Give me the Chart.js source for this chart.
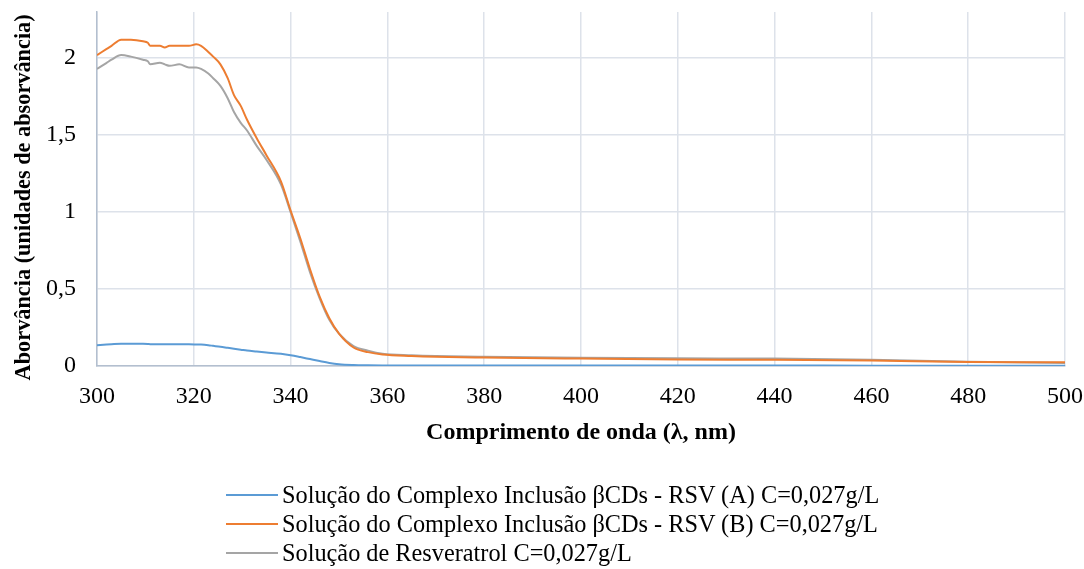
<!DOCTYPE html>
<html>
<head>
<meta charset="utf-8">
<script src="https://cdn.jsdelivr.net/npm/chart.js@4.4.0/dist/chart.umd.min.js"></script>
<style>
  html, body { margin: 0; padding: 0; background: #ffffff; }
  #wrap { position: relative; width: 1084px; height: 569px; }
  #c { position: absolute; left: 0; top: 0; }
  #legend { position: absolute; left: 226px; top: 480px; font-family: "Liberation Serif", "Times New Roman", serif; font-size: 24.3px; color: #000; }
  .row { display: flex; align-items: center; height: 29px; white-space: nowrap; }
  .swatch { width: 52px; height: 2px; margin-right: 4px; }
</style>
</head>
<body>
<div id="wrap">
  <canvas id="c" width="1084" height="569"></canvas>
  <div id="legend"></div>
</div>
<script>
const wavelengths = [300, 302, 303, 305, 307, 309.5, 310.5, 311, 313, 314, 315, 317, 319, 320.5, 321.5, 323, 324, 325.5, 327, 328.3, 329.7, 331, 333, 335, 338, 340, 342, 344, 346, 348, 350, 353, 356, 359, 365, 370, 380, 400, 420, 440, 460, 480, 500];

const seriesA = [0.135, 0.140, 0.142, 0.145, 0.145, 0.144, 0.143, 0.142, 0.142, 0.141, 0.141, 0.141, 0.141, 0.140, 0.139, 0.135, 0.131, 0.125, 0.118, 0.112, 0.106, 0.100, 0.094, 0.088, 0.079, 0.070, 0.058, 0.045, 0.032, 0.020, 0.012, 0.007, 0.005, 0.004, 0.003, 0.003, 0.003, 0.003, 0.003, 0.003, 0.002, 0.002, 0.002];

const seriesB = [2.02, 2.06, 2.08, 2.12, 2.12, 2.11, 2.10, 2.08, 2.08, 2.07, 2.08, 2.08, 2.08, 2.09, 2.08, 2.04, 2.01, 1.96, 1.87, 1.76, 1.69, 1.60, 1.48, 1.37, 1.20, 1.01, 0.83, 0.63, 0.45, 0.31, 0.21, 0.12, 0.09, 0.075, 0.065, 0.060, 0.055, 0.048, 0.042, 0.040, 0.035, 0.026, 0.024];

const seriesR = [1.93, 1.97, 1.99, 2.02, 2.01, 1.99, 1.98, 1.96, 1.97, 1.96, 1.95, 1.96, 1.94, 1.94, 1.93, 1.90, 1.87, 1.82, 1.74, 1.65, 1.58, 1.53, 1.43, 1.34, 1.18, 1.00, 0.81, 0.61, 0.44, 0.30, 0.21, 0.13, 0.10, 0.08, 0.07, 0.065, 0.060, 0.054, 0.050, 0.048, 0.040, 0.028, 0.020];

const seriesLabels = [
  "Solução do Complexo Inclusão βCDs - RSV (A) C=0,027g/L",
  "Solução do Complexo Inclusão βCDs - RSV (B) C=0,027g/L",
  "Solução de Resveratrol C=0,027g/L"
];
const seriesColors = ["#5b9bd5", "#ed7d31", "#a5a5a5"];

const xTicks = [300, 320, 340, 360, 380, 400, 420, 440, 460, 480, 500];
const yTicks = [0, 0.5, 1, 1.5, 2];

const xTitle = "Comprimento de onda (λ, nm)";
const yTitle = "Aborvância (unidades de absorvância)";

function toPoints(vals) { return wavelengths.map((w, i) => ({ x: w, y: vals[i] })); }

const allSeries = [seriesA, seriesB, seriesR];
const datasets = allSeries.map((s, i) => ({
  label: seriesLabels[i],
  data: toPoints(s),
  borderColor: seriesColors[i],
  backgroundColor: seriesColors[i],
  borderWidth: 2,
  pointRadius: 0,
  cubicInterpolationMode: 'monotone',
  fill: false
}));

const FONT = "'Liberation Serif', 'Times New Roman', serif";
const CH = 569;
const AREA = { left: 97, top: 12, right: 1065, bottom: 366 };

new Chart(document.getElementById('c'), {
  type: 'line',
  data: { datasets },
  options: {
    responsive: false,
    animation: false,
    layout: { padding: { left: 0, top: AREA.top, right: 1084 - AREA.right, bottom: 0 } },
    plugins: {
      legend: { display: false },
      tooltip: { enabled: false }
    },
    scales: {
      x: {
        type: 'linear',
        min: 300, max: 500,
        afterBuildTicks: (scale) => { scale.ticks = xTicks.map(v => ({ value: v })); },
        afterFit: (scale) => { scale.height = CH - AREA.bottom; scale.paddingLeft = 0; scale.paddingRight = 0; },
        ticks: { color: '#000', font: { family: FONT, size: 24 }, padding: 16, maxRotation: 0 },
        grid: { color: '#dde2ea', lineWidth: 1.5, drawTicks: false },
        border: { color: '#b3bfcf', width: 1.5 },
        title: { display: true, text: xTitle, color: '#000', font: { family: FONT, size: 24, weight: 'bold' }, padding: { top: 0, bottom: 122 } }
      },
      y: {
        type: 'linear',
        min: 0, max: 2.3,
        afterBuildTicks: (scale) => { scale.ticks = yTicks.map(v => ({ value: v })); },
        afterFit: (scale) => { scale.width = AREA.left; scale.paddingTop = 0; scale.paddingBottom = 0; },
        ticks: { color: '#000', font: { family: FONT, size: 24 }, padding: 21,
          callback: (v) => String(v).replace('.', ',') },
        grid: { color: '#dde2ea', lineWidth: 1.5, drawTicks: false },
        border: { color: '#b3bfcf', width: 1.5 },
        title: { display: true, text: yTitle + '\u00a0\u00a0\u00a0', color: '#000', font: { family: FONT, size: 22.3, weight: 'bold' }, padding: { top: 11, bottom: 0 } }
      }
    }
  }
});

const legend = document.getElementById('legend');
seriesLabels.forEach((lab, i) => {
  const row = document.createElement('div');
  row.className = 'row';
  const sw = document.createElement('span');
  sw.className = 'swatch';
  sw.style.background = seriesColors[i];
  const tx = document.createElement('span');
  tx.textContent = lab;
  row.appendChild(sw);
  row.appendChild(tx);
  legend.appendChild(row);
});
</script>
</body>
</html>
